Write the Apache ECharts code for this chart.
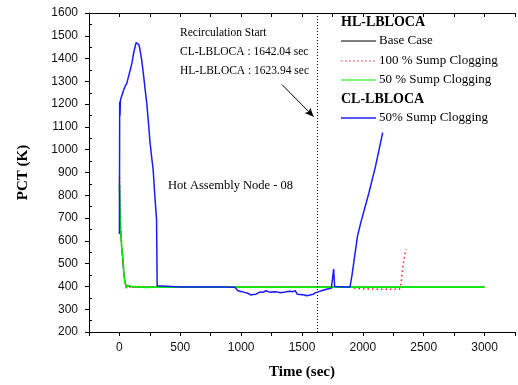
<!DOCTYPE html>
<html>
<head>
<meta charset="utf-8">
<script src="https://cdn.jsdelivr.net/npm/echarts@6/dist/echarts.min.js"></script>
<style>
html,body{margin:0;padding:0;background:#fff;}
#chart{width:518px;height:385px;}
</style>
</head>
<body>
<div id="chart"></div>
<script>
// ---- data (time in sec, PCT in K) ----
const baseT = [0, 3, 6, 10, 15, 20, 26, 32, 38, 45, 55, 70, 100, 200, 400, 700, 1000, 1300, 1600, 1900, 2200, 2500, 2800, 3000];
const baseK = [880, 760, 700, 640, 600, 560, 520, 480, 450, 420, 405, 400, 398, 397, 397, 397, 397, 397, 397, 397, 397, 397, 397, 397];

const red100T = [0, 4, 8, 12, 16, 20, 25, 30, 36, 42, 50, 60, 80, 150, 400, 800, 1200, 1600, 1900, 1950, 2100, 2200, 2300, 2307, 2315, 2325, 2336, 2352, 2357];
const red100K = [880, 800, 720, 650, 600, 540, 560, 500, 470, 430, 410, 400, 398, 397, 397, 397, 397, 397, 396, 390, 388, 388, 388, 397, 417, 468, 516, 556, 563];

const green50T = [0, 3, 6, 9, 12, 16, 20, 25, 30, 37, 44, 52, 55, 60, 70, 100, 150, 215, 300, 500, 700, 705, 710, 900, 1200, 1500, 1800, 2100, 2400, 2700, 3000];
const green50K = [850, 760, 700, 650, 630, 600, 563, 540, 519, 454, 417, 405, 392, 390, 405, 400, 398, 396, 397, 397, 397, 390, 397, 397, 397, 397, 397, 397, 397, 397, 397];

const clBlueT = [0, 2, 5, 8, 12, 20, 35, 48, 60, 75,
  89, 103, 115, 129, 137, 143, 150, 158, 164, 175,
  183, 196, 210, 224, 240, 250, 267, 277, 291, 305,
  310, 320, 500, 700, 860, 947, 974, 1000, 1028, 1055,
  1082, 1100, 1122, 1140, 1162, 1180, 1203, 1220, 1243, 1270,
  1297, 1320, 1351, 1380, 1405, 1425, 1445, 1460, 1472, 1485,
  1499, 1520, 1539, 1565, 1593, 1610, 1633, 1660, 1700, 1741,
  1752, 1760, 1768, 1780, 1850, 1894, 1910, 1929, 1956, 1983,
  2050, 2104, 2163];
const clBlueK = [630, 1210, 1150, 1215, 1225, 1232, 1262, 1280, 1290, 1322,
  1350, 1381, 1420, 1453, 1470, 1475, 1468, 1462, 1452, 1420,
  1394, 1337, 1270, 1206, 1110, 1040, 957, 913, 796, 694,
  403, 397, 397, 397, 397, 396, 381, 378, 374, 370,
  362, 365, 366, 372, 376, 374, 381, 378, 374, 377,
  376, 372, 374, 378, 379, 377, 381, 366, 359, 365,
  366, 362, 359, 362, 366, 372, 376, 381, 388, 392,
  400, 476, 400, 397, 397, 397, 446, 519, 621, 680,
  811, 927, 1075];

const xTickValues = [0, 500, 1000, 1500, 2000, 2500, 3000];
const recircHL = 1623.94;
const recircCL = 1642.04;
const arrowFrom = [1337, 1285];
const arrowTo = [1596, 1145];

function zip(a, b) { return a.map((v, i) => [v, b[i]]); }

const SERIF = 'Liberation Serif';
const SANS = 'Liberation Sans';

const chart = echarts.init(document.getElementById('chart'), null, {renderer: 'canvas'});

const lineCommon = {type: 'line', showSymbol: false, symbol: 'none', animation: false, silent: true, xAxisIndex: 0, yAxisIndex: 0};

const legendX = 341, legendLineEnd = 376, legendTextX = 379;
function legendText(txt, y, bold, size) {
  return {type: 'text', style: {text: txt, x: bold ? legendX : legendTextX, y: y, fill: '#000',
    font: (bold ? 'bold ' : '') + size + 'px "' + SERIF + '"', verticalAlign: 'middle', align: 'left'}};
}
function legendLine(y, color, dash, width) {
  return {type: 'line', shape: {x1: legendX, y1: y, x2: legendLineEnd, y2: y},
    style: {stroke: color, lineWidth: width, lineDash: dash}};
}

const option = {
  backgroundColor: '#fff',
  animation: false,
  grid: {left: 89, top: 13, right: -4, bottom: 52, containLabel: false},
  xAxis: [{
    type: 'value', position: 'bottom', min: -250, max: 3250, interval: 250,
    axisLine: {show: true, onZero: false, lineStyle: {color: '#000', width: 1}},
    axisTick: {show: true, inside: false, length: 4, lineStyle: {color: '#000'}},
    axisLabel: {show: true, margin: 10, color: '#111', fontFamily: SANS, fontSize: 12,
      formatter: v => xTickValues.indexOf(v) >= 0 ? String(v) : ''},
    splitLine: {show: false},
    name: 'Time (sec)', nameLocation: 'middle', nameGap: 33,
    nameTextStyle: {fontFamily: SERIF, fontWeight: 'bold', fontSize: 15, color: '#000'}
  }, {
    type: 'value', position: 'top', min: -250, max: 3250, interval: 250,
    axisLine: {show: true, onZero: false, lineStyle: {color: '#000', width: 1}},
    axisTick: {show: true, inside: true, length: 4, lineStyle: {color: '#000'}},
    axisLabel: {show: false}, splitLine: {show: false}
  }],
  yAxis: [{
    type: 'value', position: 'left', min: 200, max: 1600, interval: 100,
    axisLine: {show: true, onZero: false, lineStyle: {color: '#000', width: 1}},
    axisTick: {show: true, inside: false, length: 4, lineStyle: {color: '#000'}},
    axisLabel: {show: true, margin: 11, color: '#111', fontFamily: SANS, fontSize: 12,
      formatter: v => String(v)},
    splitLine: {show: false},
    name: 'PCT (K)', nameLocation: 'middle', nameGap: 58, nameRotate: 90,
    nameTextStyle: {fontFamily: SERIF, fontWeight: 'bold', fontSize: 15, color: '#000'}
  }, {
    type: 'value', position: 'left', min: 200, max: 1600, interval: 100,
    axisLine: {show: false, onZero: false},
    axisTick: {show: true, inside: true, length: 0.01, lineStyle: {color: 'rgba(0,0,0,0)'}},
    minorTick: {show: true, splitNumber: 2, length: 3, lineStyle: {color: '#000', width: 1}},
    axisLabel: {show: false}, splitLine: {show: false}, minorSplitLine: {show: false}
  }],
  graphic: [
    legendText('HL-LBLOCA', 22, true, 14),
    legendLine(41, '#000', null, 1),
    legendText('Base Case', 41, false, 13),
    legendLine(61, '#ff2020', [1.5, 2.5], 1.2),
    legendText('100 % Sump Clogging', 61, false, 13),
    legendLine(80, '#00ee00', null, 1.2),
    legendText('50 % Sump Clogging', 80, false, 13),
    legendText('CL-LBLOCA', 99, true, 14),
    legendLine(118, '#2020ff', null, 1.5),
    legendText('50% Sump Clogging', 118, false, 13),
    {type: 'text', style: {text: 'Recirculation Start', x: 180, y: 33, fill: '#000', font: '11.5px "' + SERIF + '"', verticalAlign: 'middle'}},
    {type: 'text', style: {text: 'CL-LBLOCA : ' + recircCL.toFixed(2) + ' sec', x: 180, y: 52, fill: '#000', font: '11.5px "' + SERIF + '"', verticalAlign: 'middle'}},
    {type: 'text', style: {text: 'HL-LBLOCA : ' + recircHL.toFixed(2) + ' sec', x: 180, y: 71, fill: '#000', font: '11.5px "' + SERIF + '"', verticalAlign: 'middle'}},
    {type: 'text', style: {text: 'Hot Assembly Node - 08', x: 168, y: 186, fill: '#000', font: '12.5px "' + SERIF + '"', verticalAlign: 'middle'}}
  ],
  series: [
    Object.assign({}, lineCommon, {name: 'HL Base Case', data: zip(baseT, baseK), z: 2,
      lineStyle: {color: '#000', width: 1}}),
    Object.assign({}, lineCommon, {name: 'HL 100 % Sump Clogging', data: zip(red100T, red100K), z: 3,
      lineStyle: {color: '#ff2020', width: 1.5, type: [1.5, 3]}}),
    Object.assign({}, lineCommon, {name: 'HL 50 % Sump Clogging', data: zip(green50T, green50K), z: 4,
      lineStyle: {color: '#00ee00', width: 1.6},
      markLine: {silent: true, animation: false, symbol: ['none', 'none'], label: {show: false},
        data: [
          {xAxis: recircHL, lineStyle: {color: '#000', type: [1, 2], width: 1}},
          [{coord: arrowFrom, symbol: 'none'}, {coord: arrowTo, symbol: 'arrow', symbolSize: [6, 9]}]
        ],
        lineStyle: {color: '#000', width: 1, type: 'solid'}
      }}),
    Object.assign({}, lineCommon, {name: 'CL 50% Sump Clogging', data: zip(clBlueT, clBlueK), z: 5,
      lineStyle: {color: '#1a1aff', width: 1.5}})
  ]
};
chart.setOption(option);
</script>
</body>
</html>
